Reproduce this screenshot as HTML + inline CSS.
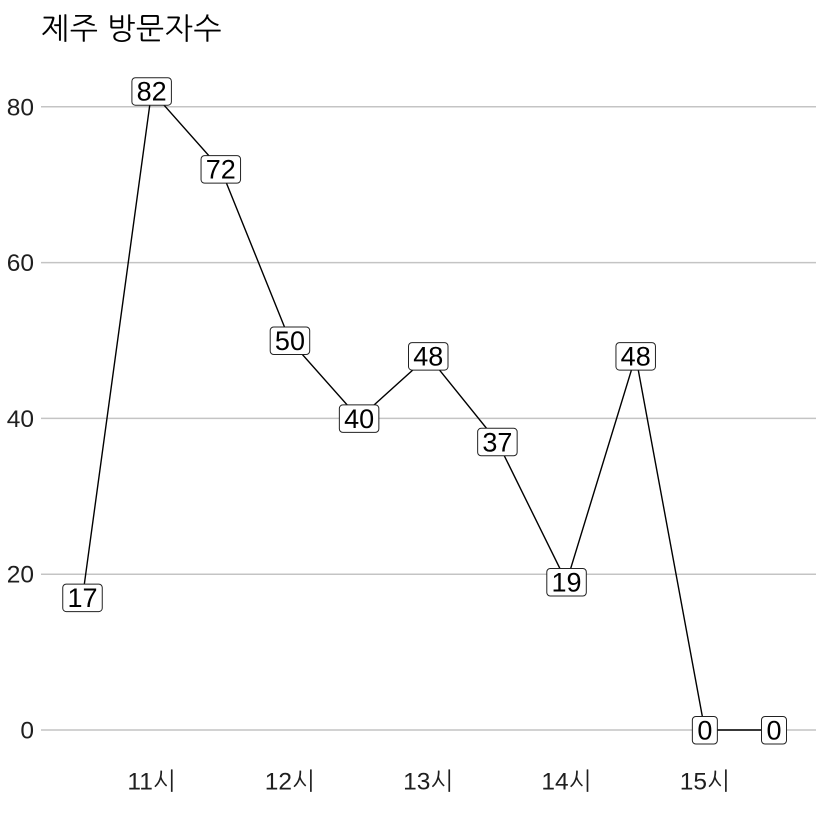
<!DOCTYPE html>
<html lang="ko">
<head>
<meta charset="utf-8">
<title>제주 방문자수</title>
<style>
html,body{margin:0;padding:0;background:#fff;}
svg{display:block;}
text{font-family:"Liberation Sans","NanumGothic","Noto Sans CJK KR",sans-serif;}
</style>
</head>
<body>
<svg id="chart" xmlns="http://www.w3.org/2000/svg" width="823" height="816" viewBox="0 0 823 816">
<text x="41" y="39" font-size="30" letter-spacing="0.5" fill="#000">제주 방문자수</text>
</svg>
<script>
const categories = ['10:30','11:00','11:30','12:00','12:30','13:00','13:30','14:00','14:30','15:00','15:30'];
const visitors = [17,82,72,50,40,48,37,19,48,0,0];
const yTicks = [0,20,40,60,80];
const xTickIndices = [1,3,5,7,9];
const xTickLabels = ['11시','12시','13시','14시','15시'];

const NS = 'http://www.w3.org/2000/svg';
const svg = document.getElementById('chart');
const xScale = i => 82.5 + i * 69.15;
const yScale = v => 730 - v * 7.79;

function make(tag, attrs, parent) {
  const el = document.createElementNS(NS, tag);
  for (const k in attrs) el.setAttribute(k, attrs[k]);
  (parent || svg).appendChild(el);
  return el;
}

yTicks.forEach(t => {
  const grid = make('line', {x1: 41, x2: 816, y1: yScale(t), y2: yScale(t), stroke: '#c4c4c4', 'stroke-width': 1.5});
  
  
  const lab = make('text', {x: 34, y: yScale(t) + 8.5, 'text-anchor': 'end', 'font-size': 24.5, fill: '#1f1f1f'});
  
  
  lab.textContent = t;
});

xTickIndices.forEach((idx, n) => {
  const lab = make('text', {x: xScale(idx), y: 789.5, 'text-anchor': 'middle', 'font-size': 24.5, fill: '#1f1f1f'});
  
  
  lab.textContent = xTickLabels[n];
});

const line = make('polyline', {
  points: visitors.map((v, i) => xScale(i) + ',' + yScale(v)).join(' '),
  fill: 'none', stroke: '#000', 'stroke-width': 1.4
});



visitors.forEach((v, i) => {
  const s = String(v);
  const w = s.length > 1 ? 39.5 : 25;
  const box = make('rect', {
    x: xScale(i) - w / 2, y: yScale(v) - 13.5, width: w, height: 27.5, rx: 3.5, ry: 3.5,
    fill: '#fff', stroke: '#222', 'stroke-width': 1
  });
  
  
  const lab = make('text', {x: xScale(i), y: yScale(v) + 9.5, 'text-anchor': 'middle', 'font-size': 27, fill: '#000'});
  
  
  lab.textContent = s;
});
</script>
</body>
</html>
